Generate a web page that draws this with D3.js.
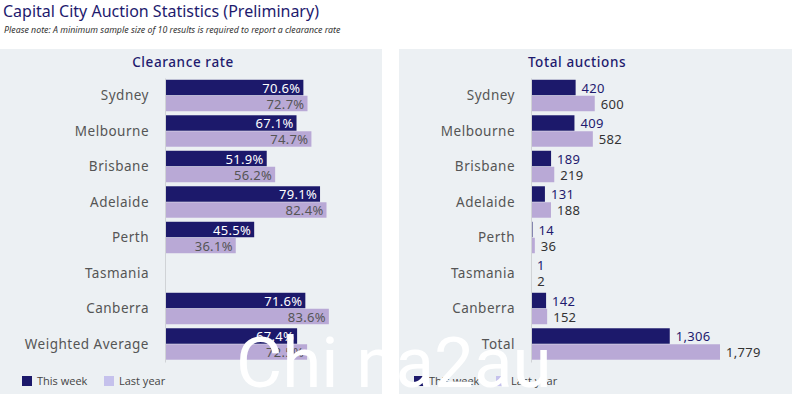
<!DOCTYPE html>
<html>
<head>
<meta charset="utf-8">
<script src="https://cdn.jsdelivr.net/npm/d3@7"></script>
<style>
  body { margin: 0; background: #fff; }
  svg { display: block; font-family: "Noto Sans", sans-serif; }
</style>
</head>
<body>
<div id="chart"></div>
<script>
// clearance rate (%), null = sample too small
const rateCities = ['Sydney', 'Melbourne', 'Brisbane', 'Adelaide', 'Perth', 'Tasmania', 'Canberra', 'Weighted Average'];
const rateThisWeek = [70.6, 67.1, 51.9, 79.1, 45.5, null, 71.6, 67.4];
const rateLastYear = [72.7, 74.7, 56.2, 82.4, 36.1, null, 83.6, 72.5];

// total auctions
const totalCities = ['Sydney', 'Melbourne', 'Brisbane', 'Adelaide', 'Perth', 'Tasmania', 'Canberra', 'Total'];
const totalThisWeek = [420, 409, 189, 131, 14, 1, 142, 1306];
const totalLastYear = [600, 582, 219, 188, 36, 2, 152, 1779];

const seriesNames = ['This week', 'Last year'];

const W = 792, H = 394;
const dark = '#1c196b', light = '#b9a9d6', navy = '#1e1a6e';

const svg = d3.select('#chart').append('svg')
    .attr('width', W)
    .attr('height', H);

// title + note
svg.append('text')
    .attr('x', 3).attr('y', 17)
    .attr('fill', navy)
    .style('font-size', '16px')
    .text('Capital City Auction Statistics (Preliminary)');

svg.append('text')
    .attr('x', 4).attr('y', 33)
    .attr('fill', '#333')
    .style('font-size', '8.8px')
    .style('font-style', 'italic')
    .text('Please note: A minimum sample size of 10 results is required to report a clearance rate');

function drawPanel(opts) {
    const g = svg.append('g');

    g.append('rect')
        .attr('x', opts.x0).attr('y', 49)
        .attr('width', opts.x1 - opts.x0).attr('height', H - 49)
        .attr('fill', '#ecf0f3');

    g.append('text')
        .attr('x', opts.titleX).attr('y', 67)
        .attr('text-anchor', 'middle')
        .attr('fill', navy)
        .style('font-size', '13.5px')
        .style('font-weight', 500)
        .style('letter-spacing', '0.6px')
        .text(opts.title);

    const y = d3.scaleBand()
        .domain(opts.cities)
        .range([78, 362])
        .paddingInner(0.1)
        .paddingOuter(0.05);

    const ySub = d3.scaleBand()
        .domain(seriesNames)
        .range([0, y.bandwidth()]);

    const x = d3.scaleLinear()
        .domain([0, opts.max])
        .range([opts.axisX, opts.axisX + opts.width]);

    const rows = opts.cities.map((c, i) => ({
        city: c,
        vals: [
            {key: 'This week', v: opts.thisWeek[i]},
            {key: 'Last year', v: opts.lastYear[i]}
        ]
    }));

    const rowG = g.selectAll('.row')
        .data(rows)
        .join('g')
        .attr('transform', d => `translate(0,${y(d.city)})`);

    rowG.selectAll('rect')
        .data(d => d.vals.filter(v => v.v !== null))
        .join('rect')
        .attr('x', x(0))
        .attr('y', d => ySub(d.key))
        .attr('width', d => x(d.v) - x(0))
        .attr('height', ySub.bandwidth() - 0.5)
        .attr('fill', d => d.key === 'This week' ? dark : light);

    rowG.selectAll('.val')
        .data(d => d.vals.filter(v => v.v !== null))
        .join('text')
        .attr('class', 'val')
        .attr('y', d => ySub(d.key) + ySub.bandwidth() / 2)
        .attr('dy', '0.38em')
        .style('font-size', '13px')
        .style('letter-spacing', '0.3px')
        .each(function (d) {
            const t = d3.select(this);
            if (opts.inside) {
                t.attr('x', x(d.v) - 3)
                    .attr('text-anchor', 'end')
                    .attr('fill', d.key === 'This week' ? '#fff' : '#555')
                    .text(d.v.toFixed(1) + '%');
            } else {
                t.attr('x', x(d.v) + 6)
                    .attr('text-anchor', 'start')
                    .attr('fill', d.key === 'This week' ? navy : '#333')
                    .text(d3.format(',')(d.v));
            }
        });

    const axis = d3.axisLeft(y).tickSize(0).tickPadding(16);
    const axisG = g.append('g')
        .attr('transform', `translate(${opts.axisX},0)`)
        .call(axis);
    axisG.select('.domain').attr('stroke', '#d0d3d6');
    axisG.selectAll('.tick text')
        .attr('fill', '#555')
        .style('font-size', '13.5px')
        .style('letter-spacing', '0.5px')
        .style('font-family', '"Noto Sans", sans-serif');

    // legend
    const leg = g.append('g').attr('transform', `translate(${opts.legX},381)`);
    seriesNames.forEach((s, i) => {
        const lx = i * 82;
        leg.append('rect')
            .attr('x', lx).attr('y', -5)
            .attr('width', 10).attr('height', 10)
            .attr('fill', i === 0 ? dark : '#c5c1ec');
        leg.append('text')
            .attr('x', lx + 15).attr('y', 0)
            .attr('dy', '0.35em')
            .attr('fill', '#444')
            .style('font-size', '11px')
            .style('font-family', '"Open Sans", sans-serif')
            .text(s);
    });
}

drawPanel({
    x0: 0, x1: 382, title: 'Clearance rate', titleX: 183,
    cities: rateCities, thisWeek: rateThisWeek, lastYear: rateLastYear,
    axisX: 165, max: 100, width: 196, inside: true, legX: 22
});

drawPanel({
    x0: 399, x1: 792, title: 'Total auctions', titleX: 577,
    cities: totalCities, thisWeek: totalThisWeek, lastYear: totalLastYear,
    axisX: 531, max: 1779, width: 189, inside: false, legX: 414
});

// watermark over the picture
svg.append('text')
    .attr('x', 236).attr('y', 387)
    .attr('fill', '#fff')
    .style('font-family', 'Roboto, sans-serif')
    .style('font-weight', 400)
    .style('font-size', '71px')
    .text('Chi na2au');
</script>
</body>
</html>
